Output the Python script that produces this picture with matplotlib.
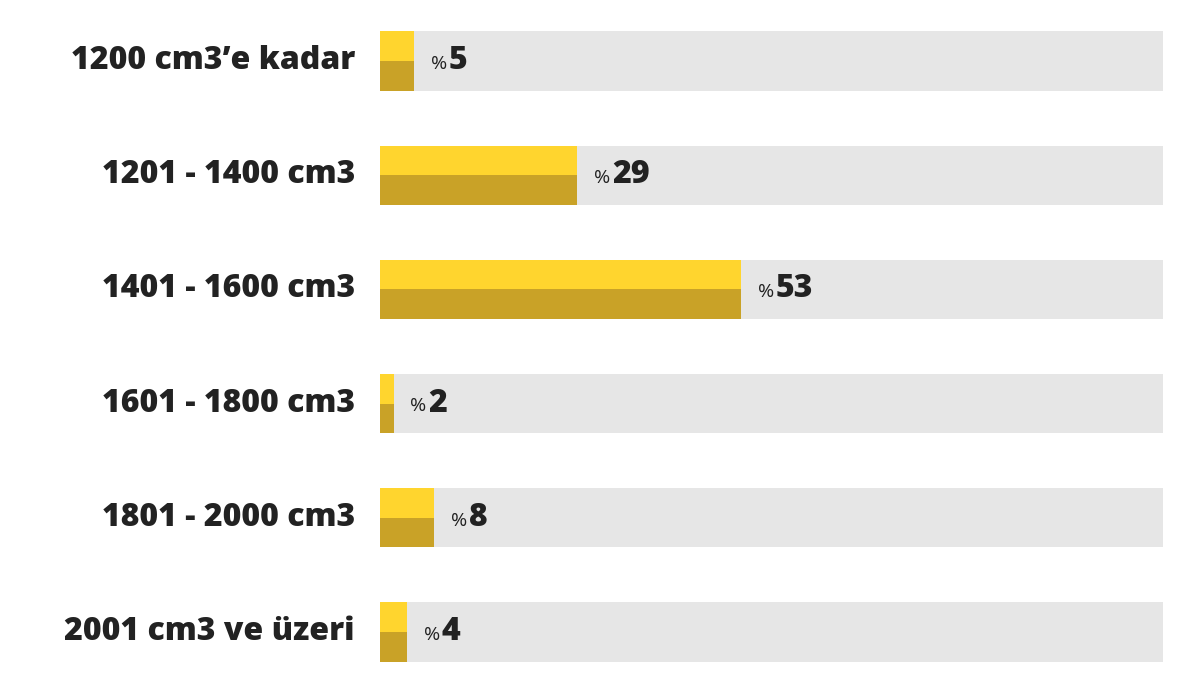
import matplotlib
matplotlib.use("Agg")
import matplotlib.pyplot as plt

categories = ["1200 cm3’e kadar", "1201 - 1400 cm3", "1401 - 1600 cm3",
              "1601 - 1800 cm3", "1801 - 2000 cm3", "2001 cm3 ve üzeri"]
values = [5, 29, 53, 2, 8, 4]

plt.rcParams['font.family'] = ['Open Sans', 'DejaVu Sans']
fig = plt.figure(figsize=(12, 6.9), dpi=100)
ax = fig.add_axes([380/1200, 0, 783/1200, 1])
ax.set_xlim(0, 115)
rows = range(len(categories))
ax.set_ylim(5 + 58/114.2, -61/114.2)
h = 0.52
for i, v in zip(rows, values):
    ax.barh(i, 115, height=h, color="#E6E6E6")
    ax.barh(i - h/4, v, height=h/2, color="#FFD52E")
    ax.barh(i + h/4, v, height=h/2, color="#C9A227")
    ax.annotate("%", (v, i), xytext=(12, -2), textcoords="offset points",
                ha="left", va="center", fontsize=14, color="#222222")
    ax.annotate(str(v), (v, i), xytext=(25, 0), textcoords="offset points",
                ha="left", va="center", fontsize=23, fontweight="heavy", color="#222222")
    ax.annotate(categories[i], (0, i), xytext=(-18, 0), textcoords="offset points",
                ha="right", va="center", fontsize=23, fontweight="heavy", color="#222222")
ax.axis("off")
fig.savefig("out.png", dpi=100)
